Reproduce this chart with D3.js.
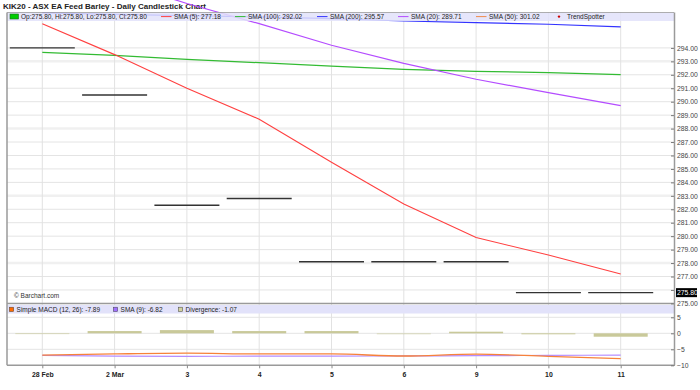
<!DOCTYPE html>
<html><head><meta charset="utf-8">
<script src="https://cdn.jsdelivr.net/npm/d3@7"></script>
<style>body{margin:0;background:#fff}svg{display:block;font-family:"Liberation Sans",Arial,sans-serif}</style>
</head><body><svg id="c" width="700" height="390"></svg>
<script>
// ---- data ----
const dates = ["28 Feb","2 Mar","3","4","5","6","9","10","11"];
const opens  = [294.0, 290.5, 282.3, 282.8, 278.1, 278.1, 278.1, 275.8, 275.8];
const highs  = [294.0, 290.5, 282.3, 282.8, 278.1, 278.1, 278.1, 275.8, 275.8];
const lows   = [294.0, 290.5, 282.3, 282.8, 278.1, 278.1, 278.1, 275.8, 275.8];
const closes = [294.0, 290.5, 282.3, 282.8, 278.1, 278.1, 278.1, 275.8, 275.8];
const sma5   = [295.8, 293.5, 291.0, 288.7, 285.5, 282.4, 279.9, 278.6, 277.18];
const sma100 = [293.67, 293.45, 293.15, 292.9, 292.65, 292.4, 292.26, 292.16, 292.02];
const sma200 = [296.6, 296.5, 296.4, 296.3, 296.17, 296.0, 295.88, 295.76, 295.57];
const sma20  = [300.9, 299.0, 297.3, 295.8, 294.2, 292.85, 291.67, 290.67, 289.71];
const macd   = [-6.85, -6.45, -6.2, -6.45, -6.45, -7.1, -6.5, -7.2, -7.89];
const signal = [-6.9, -7.15, -7.2, -7.15, -7.15, -7.05, -7.0, -6.9, -6.82];
const diverg = [0.05, 0.7, 1.0, 0.7, 0.7, -0.05, 0.5, -0.3, -1.07];
const priceTicks = d3.range(275, 295, 1);
const macdTicks = [5, 0, -5, -10];
const titleText = "KIK20 - ASX EA Feed Barley - Daily Candlestick Chart";
const mainLegend = [
  {type:"box", color:"#00cc00", text:"Op:275.80, Hi:275.80, Lo:275.80, Cl:275.80"},
  {type:"line", color:"#ff4040", text:"SMA (5): 277.18"},
  {type:"line", color:"#33bb33", text:"SMA (100): 292.02"},
  {type:"line", color:"#3333ff", text:"SMA (200): 295.57"},
  {type:"line", color:"#b44cff", text:"SMA (20): 289.71"},
  {type:"line", color:"#f08a4b", text:"SMA (50): 301.02"},
  {type:"dot", color:"#cc0000", text:"TrendSpotter"}
];
const macdLegend = [
  {color:"#ff6a00", text:"Simple MACD (12, 26): -7.89"},
  {color:"#a070ff", text:"SMA (9): -6.82"},
  {color:"#d2d2a0", text:"Divergence: -1.07"}
];

// ---- layout ----
const L = 7, R = 674, T = 12.5, B = 303.5, MB = 365.3;
const svg = d3.select("#c");
const x = d3.scalePoint().domain(dates).range([42.3, 620.7]);
const y = d3.scaleLinear().domain([275, 294]).range([303.4, 47.9]);
const ym = d3.scaleLinear().domain([-10, 5]).range([365.3, 317.3]);
const idx = d3.range(dates.length);
const last = closes[closes.length - 1];

// grid
const g = svg.append("g");
g.selectAll(".hg").data(priceTicks).join("line")
  .attr("x1", L).attr("x2", R).attr("y1", d => y(d)).attr("y2", d => y(d))
  .attr("stroke", d => (d % 5 === 3) ? "#f0f0f0" : "#e4e4e4")
  .attr("stroke-width", d => (d % 5 === 3) ? 2.5 : 1);
g.selectAll(".mg").data([5, 0, -5]).join("line")
  .attr("x1", L).attr("x2", R).attr("y1", d => ym(d)).attr("y2", d => ym(d))
  .attr("stroke", "#e4e4e4");
g.selectAll(".vg").data(dates).join("line")
  .attr("x1", d => x(d)).attr("x2", d => x(d)).attr("y1", T).attr("y2", MB)
  .attr("stroke", "#e2e2e2");

// title
svg.append("text").attr("x", 3).attr("y", 8.6).attr("font-size", 8).attr("font-weight", "bold")
  .attr("fill", "#222").text(titleText);

// candles (O=H=L=C -> flat)
const bw = 65;
svg.append("g").selectAll("line").data(idx).join("line")
  .attr("x1", i => x(dates[i]) - bw/2).attr("x2", i => x(dates[i]) + bw/2)
  .attr("y1", i => y(closes[i])).attr("y2", i => y(opens[i]))
  .attr("stroke", "#333").attr("stroke-width", 1.4);
svg.append("g").selectAll("line").data(idx).join("line")
  .attr("x1", i => x(dates[i])).attr("x2", i => x(dates[i]))
  .attr("y1", i => y(highs[i])).attr("y2", i => y(lows[i]))
  .attr("stroke", "#333").attr("stroke-width", 1);

// SMA lines
const line = arr => d3.line().x(i => x(dates[i])).y(i => y(arr[i]))(idx);
[[sma100, "#33bb33", 1.3], [sma200, "#3333ff", 1.2], [sma20, "#b44cff", 1.2], [sma5, "#ff4040", 1.1]]
  .forEach(([arr, c, w]) => svg.append("path").attr("d", line(arr)).attr("fill", "none")
    .attr("stroke", c).attr("stroke-width", w));

// main legend bar
svg.append("rect").attr("x", L).attr("y", T).attr("width", R - L).attr("height", 8.5)
  .attr("fill", "rgb(226,226,250)").attr("fill-opacity", 0.85);
const mlX = [10, 161, 235, 317, 398, 476, 556];
const lg = svg.append("g");
mainLegend.forEach((d, i) => {
  const x0 = mlX[i];
  let tx;
  if (d.type === "box") {
    lg.append("rect").attr("x", x0).attr("y", 14).attr("width", 8.5).attr("height", 5)
      .attr("fill", d.color).attr("stroke", "#226622").attr("stroke-width", 0.6);
    tx = x0 + 11;
  } else if (d.type === "line") {
    lg.append("line").attr("x1", x0).attr("x2", x0 + 10.5).attr("y1", 16.6).attr("y2", 16.6)
      .attr("stroke", d.color).attr("stroke-width", 1);
    tx = x0 + 13;
  } else {
    lg.append("circle").attr("cx", x0 + 3).attr("cy", 16.6).attr("r", 1.2).attr("fill", d.color);
    tx = x0 + 11;
  }
  lg.append("text").attr("x", tx).attr("y", 19).attr("font-size", 6.5).attr("fill", "#222").text(d.text);
});

// copyright
svg.append("text").attr("x", 14).attr("y", 297.5).attr("font-size", 6.5).attr("fill", "#333").text("\u00a9 Barchart.com");

// MACD panel
svg.append("rect").attr("x", L).attr("y", 305).attr("width", R - L).attr("height", 8.5)
  .attr("fill", "rgb(226,226,250)");
const mX = [9.3, 113.3, 178.3];
macdLegend.forEach((d, i) => {
  svg.append("rect").attr("x", mX[i]).attr("y", 307.2).attr("width", 4.4).attr("height", 4.4)
    .attr("fill", d.color).attr("stroke", "#444").attr("stroke-width", 0.5);
  svg.append("text").attr("x", mX[i] + 7.3).attr("y", 311.6).attr("font-size", 6.5).attr("fill", "#222").text(d.text);
});
const dbw = 54;
svg.append("g").selectAll("rect").data(idx).join("rect")
  .attr("x", i => x(dates[i]) - dbw/2)
  .attr("y", i => Math.min(ym(diverg[i]), ym(0)))
  .attr("width", dbw)
  .attr("height", i => Math.max(1, Math.abs(ym(diverg[i]) - ym(0))))
  .attr("fill", "#c9c99a").attr("fill-opacity", i => Math.abs(diverg[i]) < 0.1 ? 0.6 : 1);
const mline = arr => d3.line().curve(d3.curveMonotoneX).x(i => x(dates[i])).y(i => ym(arr[i]))(idx);
svg.append("path").attr("d", mline(signal)).attr("fill", "none").attr("stroke", "#b48cff").attr("stroke-width", 1.2);
svg.append("path").attr("d", mline(macd)).attr("fill", "none").attr("stroke", "#f7823a").attr("stroke-width", 1.3);

// frame lines
const fr = svg.append("g").attr("stroke", "#9a9a9a");
fr.append("line").attr("x1", L).attr("x2", L).attr("y1", T).attr("y2", MB).attr("stroke-width", 1.5);
fr.append("line").attr("x1", L).attr("x2", R).attr("y1", T).attr("y2", T).attr("stroke-width", 0.8);
fr.append("line").attr("x1", L).attr("x2", R + 1).attr("y1", B).attr("y2", B).attr("stroke-width", 1.5);
fr.append("line").attr("x1", L).attr("x2", R + 1).attr("y1", MB).attr("y2", MB).attr("stroke-width", 1.5);

// right axes (label next to the price tag is hidden by the tag)
const ay = svg.append("g").attr("transform", `translate(${R},0)`)
  .call(d3.axisRight(y).tickValues(priceTicks)
    .tickFormat(d => Math.abs(d - last) < 0.5 ? "" : d3.format(".2f")(d))
    .tickSizeInner(-3).tickSizeOuter(0).tickPadding(3));
const aym = svg.append("g").attr("transform", `translate(${R},0)`)
  .call(d3.axisRight(ym).tickValues(macdTicks).tickFormat(d3.format("d")).tickSizeInner(-3).tickSizeOuter(0).tickPadding(3));
[ay, aym].forEach(a => {
  a.select(".domain").remove();
  a.selectAll("line").attr("stroke", "#777");
  a.selectAll("text").attr("font-size", 6.8).attr("fill", "#444").attr("font-family", "Liberation Sans, Arial, sans-serif");
});
svg.append("line").attr("x1", R + 0.5).attr("x2", R + 0.5).attr("y1", T).attr("y2", MB).attr("stroke", "#9a9a9a").attr("stroke-width", 1.5);

// current price tag
svg.append("rect").attr("x", 676).attr("y", y(last) - 4.5).attr("width", 21).attr("height", 9).attr("fill", "#000");
svg.append("text").attr("x", 677).attr("y", y(last) + 2.4).attr("font-size", 6.8).attr("fill", "#fff").text(d3.format(".2f")(last));

// bottom axis
const ax = svg.append("g").attr("transform", `translate(0,${MB})`)
  .call(d3.axisBottom(x).tickSizeInner(3).tickSizeOuter(0).tickPadding(4));
ax.select(".domain").remove();
ax.selectAll("line").attr("stroke", "#888");
ax.selectAll("text").attr("font-size", 6.9).attr("font-weight", "bold").attr("fill", "#222")
  .attr("font-family", "Liberation Sans, Arial, sans-serif");
</script></body></html>
